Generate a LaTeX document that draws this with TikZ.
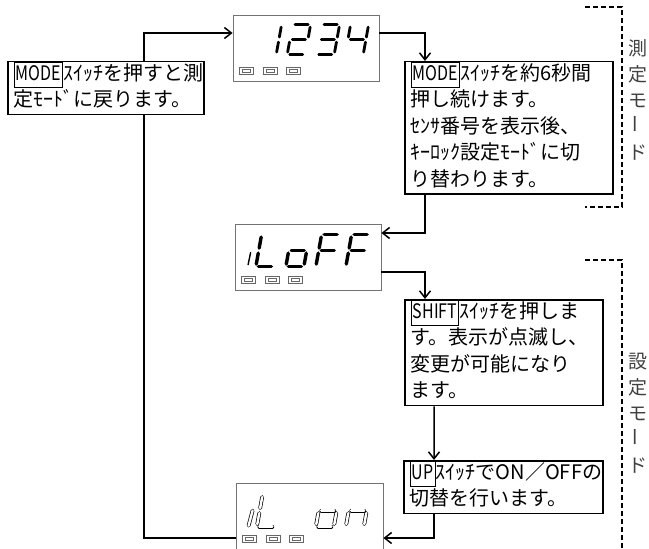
\documentclass[tikz,border=0pt]{standalone}
\usepackage{fontspec}
\usepackage{graphicx}
\setmainfont{Noto Sans CJK JP}
\usetikzlibrary{arrows.meta}

\tikzset{
  disp/.style={draw=black!55,line width=0.8bp,fill=white,minimum width=146bp,minimum height=66bp,inner sep=0pt},
  msg/.style={draw=black,line width=1.5bp,fill=white,anchor=north west,inner xsep=6bp,inner ysep=0pt,align=left,font=\fontsize{20bp}{26.5bp}\selectfont},
  flow/.style={draw=black,line width=1.5bp},
  arr/.style={-{Straight Barb[length=7bp,width=11bp]}},
  grp/.style={draw=black,line width=1.3bp,dash pattern=on 5bp off 3bp},
  grplabel/.style={align=center,text=black!75,font=\fontsize{19bp}{26bp}\selectfont},
  seg/.style={line width=2.8bp,line cap=round},
  btn/.style={draw=black!60,line width=0.6bp}
}

\newcommand{\keysw}[1]{{\setlength{\fboxsep}{0pt}\setlength{\fboxrule}{1.2bp}\fbox{\rule[-6.7bp]{0pt}{24bp}\kern1bp\scalebox{0.8}[1]{#1}\kern1bp}}}

\newcommand{\sH}{30}
\newcommand{\sga}{\draw[seg] (2.5,0) -- (15.5,0);}
\newcommand{\sgb}{\draw[seg] (18,2.5) -- (18,\sH/2-2.5);}
\newcommand{\sgc}{\draw[seg] (18,\sH/2+2.5) -- (18,\sH-2.5);}
\newcommand{\sgd}{\draw[seg] (2.5,\sH) -- (15.5,\sH);}
\newcommand{\sge}{\draw[seg] (0,\sH/2+2.5) -- (0,\sH-2.5);}
\newcommand{\sgf}{\draw[seg] (0,2.5) -- (0,\sH/2-2.5);}
\newcommand{\sgg}{\draw[seg] (2.5,\sH/2) -- (15.5,\sH/2);}
\newcommand{\lcdchar}[2]{\begin{scope}[shift={#1},xslant=0.18]#2\end{scope}}
\newcommand{\btnrow}{\foreach \bx in {7,31,54}{\draw[btn] (\bx,53) rectangle ++(14,7); \draw[btn] (\bx+3,55) rectangle ++(8,3);}}

\begin{document}
\begin{tikzpicture}[x=1bp,y=-1bp]
\useasboundingbox (0,0) rectangle (649,549);

\node[disp] (d1) at (306,48) {};
\node[disp] (d2) at (308,257) {};
\node[disp,minimum width=147bp] (d3) at (309.5,516) {};

\begin{scope}[shift={(d1.north west)}]
  \lcdchar{(31,10)}{\sgb\sgc}
  \lcdchar{(60,10)}{\sga\sgb\sgg\sge\sgd}
  \lcdchar{(89,10)}{\sga\sgb\sgg\sgc\sgd}
  \lcdchar{(118,10)}{\sgf\sgg\sgb\sgc}
  \btnrow
\end{scope}

\begin{scope}[shift={(d2.north west)},seg/.style={line width=3.4bp,line cap=round}]
  \renewcommand{\sH}{32}
  \draw[line width=1.4bp,line cap=round] (16,29) -- (13.5,41);
  \lcdchar{(27,11)}{\sgf\sge\sgd}
  \lcdchar{(57,11)}{\sgg\sgc\sgd\sge}
  \lcdchar{(87,11)}{\sga\sgf\sgg\sge}
  \lcdchar{(117,11)}{\sga\sgf\sgg\sge}
  \btnrow
\end{scope}

\begin{scope}[shift={(d3.north west)},seg/.style={line width=0.7bp,double=white,double distance=2.4bp,line cap=round}]
  \renewcommand{\sH}{32}
  \draw[seg] (17,28) -- (13,43);
  \lcdchar{(27,12)}{\sgf\sge\sgd}
  \lcdchar{(86,12)}{\sgg\sgc\sgd\sge}
  \lcdchar{(116,12)}{\sgg\sgc\sge}
  \btnrow
\end{scope}

\node[msg,text width=184bp] (b0) at (7,61) {\keysw{MODE}ｽｲｯﾁを押すと測\\\strut 定ﾓｰﾄﾞに戻ります。};
\node[msg,text width=196bp] (b2) at (404,61) {\keysw{MODE}ｽｲｯﾁを約6秒間\\\strut 押し続けます。\\\strut ｾﾝｻ番号を表示後、\\\strut ｷｰﾛｯｸ設定ﾓｰﾄﾞに切\\\strut り替わります。};
\node[msg,text width=186bp] (b3) at (404,299) {\keysw{SHIFT}ｽｲｯﾁを押しま\\\strut す。表示が点滅し、\\\strut 変更が可能になり\\\strut ます。};
\node[msg,text width=187bp] (b4) at (403,460) {\keysw{UP}ｽｲｯﾁでON／OFFの\\\strut 切替を行います。};

\draw[flow,arr] ([yshift=15bp]d1.east) -| ([xshift=21bp]b2.north west);
\draw[flow,arr] ([xshift=21bp]b2.south west) |- ([yshift=24bp]d2.east);
\draw[flow,arr] ([yshift=-15bp]d2.east) -| ([xshift=21bp]b3.north west);
\draw[flow,arr] ([xshift=30bp]b3.south west) -- ([xshift=31bp]b4.north west);
\draw[flow,arr] ([xshift=31bp]b4.south west) |- ([yshift=-22bp]d3.east);
\draw[flow] ([yshift=-22bp]d3.west) -| ([xshift=137bp]b0.south west);
\draw[flow,arr] ([xshift=137bp]b0.north west) |- ([yshift=15bp]d1.west);

\draw[grp] (585,7) -- (622,7) -- (622,207) -- (585,207);
\draw[grp] (585,260) -- (622,260) -- (622,549);
\node[grplabel] (lab1) at (638,100) {測\\定\\モ\\\rotatebox{90}{ー}\\ド};
\node[grplabel] (lab2) at (638,413) {設\\定\\モ\\\rotatebox{90}{ー}\\ド};
\end{tikzpicture}
\end{document}
